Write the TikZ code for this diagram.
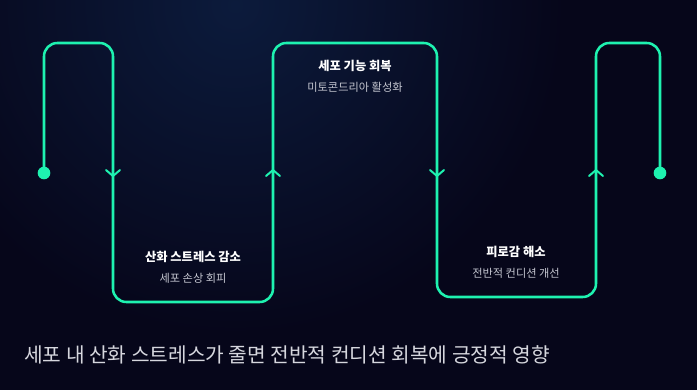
\documentclass[tikz,border=0pt]{standalone}
\usepackage{fontspec}
\setmainfont{Noto Sans CJK KR}
\usetikzlibrary{calc}
\definecolor{bg}{HTML}{06061A}
\definecolor{glow}{HTML}{0C1B3C}
\definecolor{mint}{HTML}{1EF2B0}
\definecolor{subtxt}{HTML}{C4C6D0}
\definecolor{captxt}{HTML}{D6D7DE}
\tikzset{
  flow/.style={draw=mint, line width=1.9pt, rounded corners=10pt, line join=round},
  chev/.style={draw=mint, line width=1.5pt, line cap=round, line join=miter},
  enddot/.style={circle, fill=mint, inner sep=0pt, minimum size=9.5pt},
  ttl/.style={text=white, font=\bfseries\fontsize{9.2pt}{11pt}\selectfont, inner sep=0pt},
  sub/.style={text=subtxt, font=\fontsize{8.4pt}{10pt}\selectfont, inner sep=0pt},
  captiontext/.style={text=captxt, font=\fontsize{15.2pt}{18pt}\selectfont, inner sep=0pt, anchor=west}
}
\begin{document}
\begin{tikzpicture}[x=0.75pt,y=-0.75pt]
\fill[bg] (0,0) rectangle (697,390);
\begin{scope}
\clip (0,0) rectangle (697,390);
\shade[inner color=glow, outer color=bg] (235,5) circle[radius=330];
\end{scope}
\useasboundingbox (0,0) rectangle (697,390);

% path corners
\coordinate (s) at (44,173);
\coordinate (c1) at (44,43);
\coordinate (c2) at (113,43);
\coordinate (c3) at (113,302);
\coordinate (c4) at (273,302);
\coordinate (c5) at (273,43);
\coordinate (c6) at (437,43);
\coordinate (c7) at (437,297);
\coordinate (c8) at (596,297);
\coordinate (c9) at (596,43);
\coordinate (c10) at (660,43);
\coordinate (e) at (660,173);

\draw[flow] (s) -- (c1) -- (c2) -- (c3) -- (c4) -- (c5) -- (c6) -- (c7) -- (c8) -- (c9) -- (c10) -- (e);
\node[enddot] (sd) at (s) {};
\node[enddot] (ed) at (e) {};

% chevrons
\coordinate (a1) at (113,176);
\coordinate (a2) at (273,170);
\coordinate (a3) at (437,176);
\coordinate (a4) at (596,170);
\draw[chev] ($(a1)+(-7,-6)$) -- (a1) -- ($(a1)+(7,-6)$);
\draw[chev] ($(a2)+(-7,6)$) -- (a2) -- ($(a2)+(7,6)$);
\draw[chev] ($(a3)+(-7,-6)$) -- (a3) -- ($(a3)+(7,-6)$);
\draw[chev] ($(a4)+(-7,6)$) -- (a4) -- ($(a4)+(7,6)$);

% labels
\node[ttl] (t2) at (355,66) {세포 기능 회복};
\node[sub] (s2) at (355,87) {미토콘드리아 활성화};
\node[ttl] (t1) at (193,257) {산화 스트레스 감소};
\node[sub] (s1) at (193,278) {세포 손상 회피};
\node[ttl] (t3) at (516,252) {피로감 해소};
\node[sub] (s3) at (516,273) {전반적 컨디션 개선};

\node[captiontext] (caption) at (24,355) {세포 내 산화 스트레스가 줄면 전반적 컨디션 회복에 긍정적 영향};
\end{tikzpicture}
\end{document}
